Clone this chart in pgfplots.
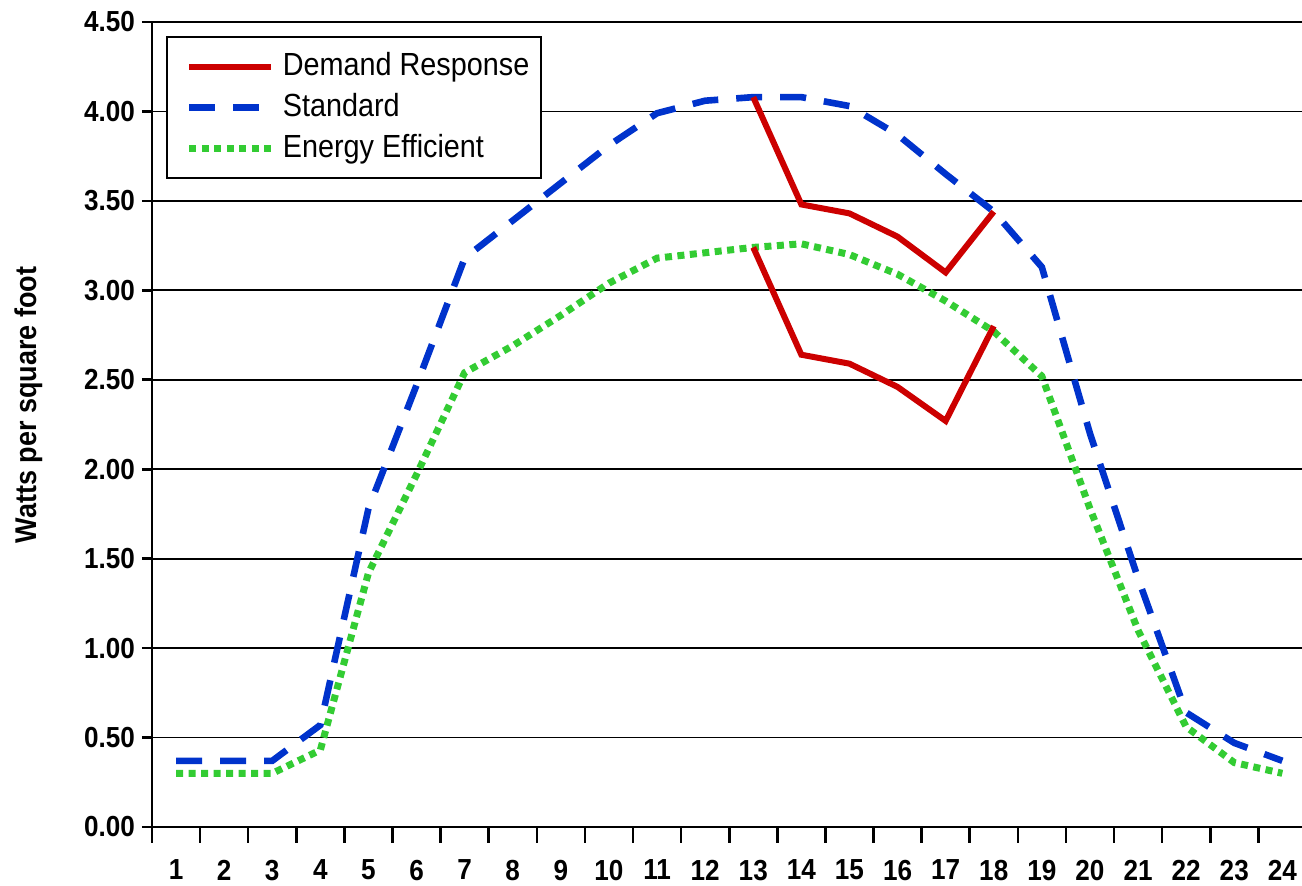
\documentclass[border=0pt]{standalone}
\usepackage{fontspec}
\setmainfont{Liberation Sans}[FakeStretch=0.9]
\usepackage{pgfplots}
\pgfplotsset{compat=1.18}

\definecolor{drred}{RGB}{204,0,0}
\definecolor{stdblue}{RGB}{0,51,204}
\definecolor{eegreen}{RGB}{51,204,51}

\begin{document}
\begin{tikzpicture}
\useasboundingbox (-76bp,-29.5bp) rectangle (575bp,413.5bp);
\begin{axis}[
    scale only axis,
    width=577.2bp, height=402.5bp,
    xmin=0.5, xmax=24.5,
    ymin=0, ymax=4.5,
    axis x line*=bottom,
    axis y line*=left,
    axis line style={black, line width=1.3bp},
    xtick={1,...,24},
    major x tick style=transparent,
    minor xtick={0.5,1.5,...,24.5},
    minor x tick style={black, line width=1.3bp},
    ytick={0,0.5,1,1.5,2,2.5,3,3.5,4,4.5},
    major y tick style={black, line width=1.3bp},
    tick align=outside,
    major tick length=5bp,
    minor tick length=8bp,
    ymajorgrids,
    grid style={black, line width=0.9bp},
    /pgf/number format/assume math mode=true,
    tick label style={font=\bfseries\fontsize{14.5bp}{16bp}\selectfont},
    yticklabel style={/pgf/number format/.cd, fixed, fixed zerofill, precision=2},
    xticklabel style={yshift=-8bp},
    ylabel={Watts per square foot},
    ylabel style={font=\bfseries\fontsize{15bp}{17bp}\selectfont,
                  at={(axis description cs:-0.107,0.524)}, anchor=center},
    legend image code/.code={\path (0bp,0bp); \draw[#1] (3.5bp,0bp) -- (44.5bp,0bp);},
    legend cell align=left,
    reverse legend,
    legend style={
        at={(0.0119,0.9826)}, anchor=north west,
        draw=black, line width=1.1bp,
        inner xsep=6bp, inner ysep=7bp,
        row sep=5bp, column sep=4bp,
        font=\fontsize{16bp}{19bp}\selectfont,
        nodes={inner sep=0pt, text height=12bp, text depth=3.5bp}
    }
]

\addplot[eegreen, line width=3.5bp, dash pattern=on 3.5bp off 2.75bp]
  coordinates {
    (1,0.30) (2,0.30) (3,0.30) (4,0.43) (5,1.42) (6,1.97) (7,2.54) (8,2.69)
    (9,2.86) (10,3.04) (11,3.18) (12,3.21) (13,3.24) (14,3.26) (15,3.20) (16,3.09)
    (17,2.94) (18,2.77) (19,2.52) (20,1.78) (21,1.10) (22,0.56) (23,0.36) (24,0.30)
  };
\addlegendentry{Energy Efficient}

\addplot[stdblue, line width=3.3bp, dash pattern=on 13bp off 9bp]
  coordinates {
    (1,0.37) (2,0.37) (3,0.37) (4,0.57) (5,1.78) (6,2.47) (7,3.18) (8,3.39)
    (9,3.60) (10,3.81) (11,3.99) (12,4.06) (13,4.08) (14,4.08) (15,4.03) (16,3.87)
    (17,3.65) (18,3.44) (19,3.13) (20,2.20) (21,1.39) (22,0.64) (23,0.47) (24,0.37)
  };
\addlegendentry{Standard}

\addplot[drred, line width=3bp]
  coordinates {(13,4.08) (14,3.48) (15,3.43) (16,3.30) (17,3.10) (18,3.44)};
\addlegendentry{Demand Response}

\addplot[drred, line width=3bp, forget plot]
  coordinates {(13,3.24) (14,2.64) (15,2.59) (16,2.46) (17,2.27) (18,2.80)};

\end{axis}
\end{tikzpicture}
\end{document}
